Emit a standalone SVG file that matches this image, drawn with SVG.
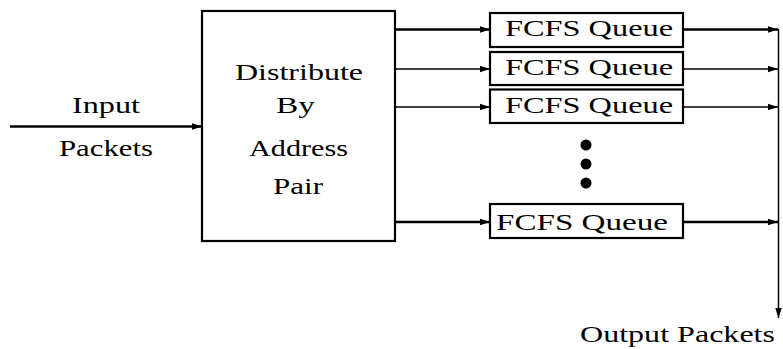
<svg xmlns="http://www.w3.org/2000/svg" width="783" height="349" viewBox="0 0 783 349">
<style>
text{font-family:"Liberation Serif","Times New Roman",serif;font-size:24px;fill:#000}
.box{fill:#fff;stroke:#000;stroke-width:2.2}
.thick{stroke:#000;stroke-width:2.5;fill:none}
.thin{stroke:#000;stroke-width:1.5;fill:none}
</style>
<defs>
<marker id="ah" markerUnits="userSpaceOnUse" markerWidth="11" markerHeight="8" refX="10" refY="4" orient="auto"><path d="M0,0.8 L10,4 L0,7.2 Z" fill="#000"/></marker>
</defs>
<g id="connectors">
<line class="thick" x1="10" y1="126.5" x2="202" y2="126.5" marker-end="url(#ah)"/>
<line class="thick" x1="395" y1="29.5" x2="490" y2="29.5" marker-end="url(#ah)"/>
<line class="thin" x1="395" y1="69" x2="490" y2="69" marker-end="url(#ah)"/>
<line class="thin" x1="395" y1="107" x2="490" y2="107" marker-end="url(#ah)"/>
<line class="thick" x1="395" y1="222" x2="490" y2="222" marker-end="url(#ah)"/>
<line class="thick" x1="683" y1="29.5" x2="778" y2="29.5" marker-end="url(#ah)"/>
<line class="thin" x1="683" y1="69" x2="778" y2="69" marker-end="url(#ah)"/>
<line class="thin" x1="683" y1="107" x2="778" y2="107" marker-end="url(#ah)"/>
<line class="thick" x1="683" y1="222" x2="778" y2="222" marker-end="url(#ah)"/>
<line class="thin" x1="778.5" y1="29" x2="778.5" y2="318" marker-end="url(#ah)"/>
</g>
<g id="input-label">
<text x="72" y="113" textLength="68" lengthAdjust="spacingAndGlyphs">Input</text>
<text x="59" y="156" textLength="94" lengthAdjust="spacingAndGlyphs">Packets</text>
</g>
<g id="distribute">
<rect class="box" x="202" y="11" width="193" height="230"/>
<text x="235" y="80" textLength="128" lengthAdjust="spacingAndGlyphs">Distribute</text>
<text x="276" y="113" textLength="39" lengthAdjust="spacingAndGlyphs">By</text>
<text x="249" y="156" textLength="99" lengthAdjust="spacingAndGlyphs">Address</text>
<text x="273" y="194" textLength="50" lengthAdjust="spacingAndGlyphs">Pair</text>
</g>
<g id="queue1">
<rect class="box" x="490" y="13" width="193" height="34"/>
<text x="505" y="36" textLength="168" lengthAdjust="spacingAndGlyphs">FCFS Queue</text>
</g>
<g id="queue2">
<rect class="box" x="490" y="52" width="193" height="33"/>
<text x="505" y="75" textLength="168" lengthAdjust="spacingAndGlyphs">FCFS Queue</text>
</g>
<g id="queue3">
<rect class="box" x="490" y="89.5" width="193" height="33.5"/>
<text x="505" y="113" textLength="168" lengthAdjust="spacingAndGlyphs">FCFS Queue</text>
</g>
<g id="dots">
<circle cx="586" cy="145" r="5.5"/>
<circle cx="586" cy="164" r="5.5"/>
<circle cx="586" cy="183" r="5.5"/>
</g>
<g id="queue4">
<rect class="box" x="490" y="204" width="193" height="34"/>
<text x="496" y="230" textLength="172" lengthAdjust="spacingAndGlyphs">FCFS Queue</text>
</g>
<g id="output-label">
<text x="580" y="342" textLength="195" lengthAdjust="spacingAndGlyphs">Output Packets</text>
</g>
</svg>
